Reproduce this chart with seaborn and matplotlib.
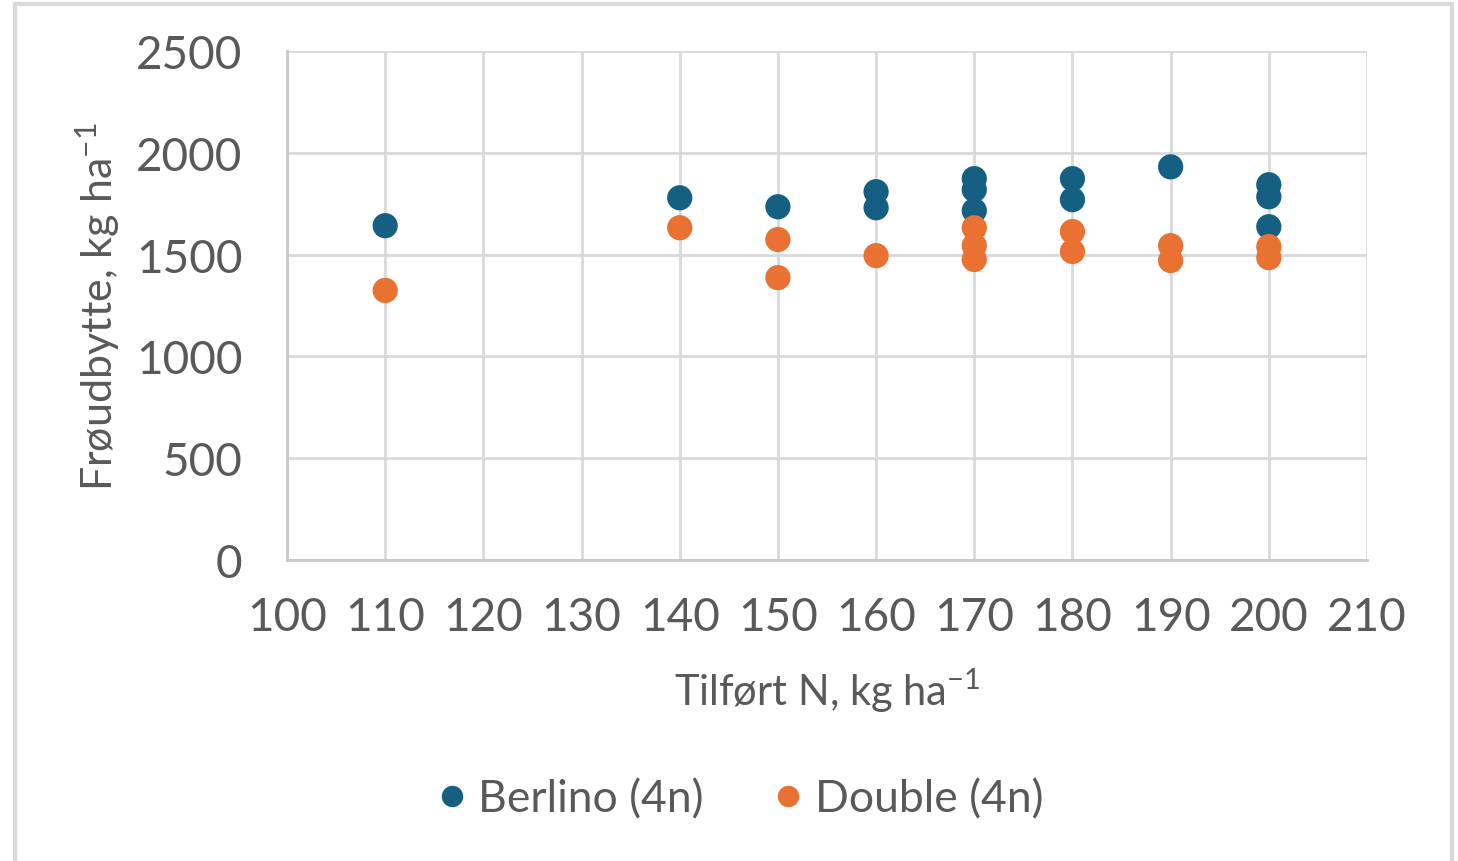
import pandas as pd
import matplotlib.pyplot as plt
import seaborn as sns
from matplotlib.patches import Rectangle

# Data
berlino_n = [110, 140, 150, 160, 160, 170, 170, 170, 180, 180, 190, 200, 200, 200]
berlino_yield = [1642, 1779, 1735, 1809, 1730, 1873, 1819, 1716, 1873, 1770, 1931, 1843, 1784, 1637]
double_n = [110, 140, 150, 150, 160, 170, 170, 170, 180, 180, 190, 190, 200, 200]
double_yield = [1324, 1632, 1574, 1387, 1495, 1632, 1544, 1476, 1613, 1515, 1544, 1471, 1539, 1485]

x_ticks = list(range(100, 211, 10))
y_ticks = list(range(0, 2501, 500))

df = pd.concat([
    pd.DataFrame({'N': berlino_n, 'Yield': berlino_yield, 'Sort': 'Berlino (4n)'}),
    pd.DataFrame({'N': double_n, 'Yield': double_yield, 'Sort': 'Double (4n)'}),
])

sns.set_style('white')
plt.rcParams['font.family'] = ['Lato', 'DejaVu Sans']
plt.rcParams['mathtext.default'] = 'regular'

text_color = '#595959'
grid_color = '#D9D9D9'

fig = plt.figure(figsize=(14.58, 8.62), dpi=100)
ax = fig.add_axes([287 / 1458, 1 - 561 / 862, 1080 / 1458, 509 / 862])

sns.scatterplot(data=df, x='N', y='Yield', hue='Sort',
                palette={'Berlino (4n)': '#156082', 'Double (4n)': '#E97132'},
                s=330, linewidth=0, ax=ax, zorder=3)

ax.set_xlim(100, 210)
ax.set_ylim(0, 2500)
ax.set_xticks(x_ticks)
ax.set_yticks(y_ticks)
ax.grid(True, color=grid_color, linewidth=2)
ax.set_axisbelow(True)
for side in ['top', 'right']:
    ax.spines[side].set_visible(False)
for side in ['left', 'bottom']:
    ax.spines[side].set_color('#C8C8C8')
    ax.spines[side].set_linewidth(2)
ax.tick_params(axis='both', length=0, labelsize=33, labelcolor=text_color)
ax.tick_params(axis='x', pad=26)
ax.tick_params(axis='y', pad=32)

ax.set_xlabel('Tilført N, kg ha$^{-1}$', fontsize=30, color=text_color, labelpad=20)
ax.set_ylabel('Frøudbytte, kg ha$^{-1}$', fontsize=31, color=text_color, labelpad=10)

# legend centred on the figure, below the axis title
handles, labels = ax.get_legend_handles_labels()
ax.get_legend().remove()
fig.legend(handles, labels, loc='center', bbox_to_anchor=(741 / 1458, 1 - 800 / 862),
           ncol=2, frameon=False, fontsize=32, labelcolor=text_color,
           handlelength=0.6, handletextpad=0.3, columnspacing=1.6, markerscale=0.85)

fig.patches.append(Rectangle((15 / 1458, -0.01), 1437 / 1458, 1 - 5 / 862 + 0.01,
                             transform=fig.transFigure, fill=False,
                             edgecolor='#D9D9D9', linewidth=3))

fig.savefig('out.png', dpi=100)
